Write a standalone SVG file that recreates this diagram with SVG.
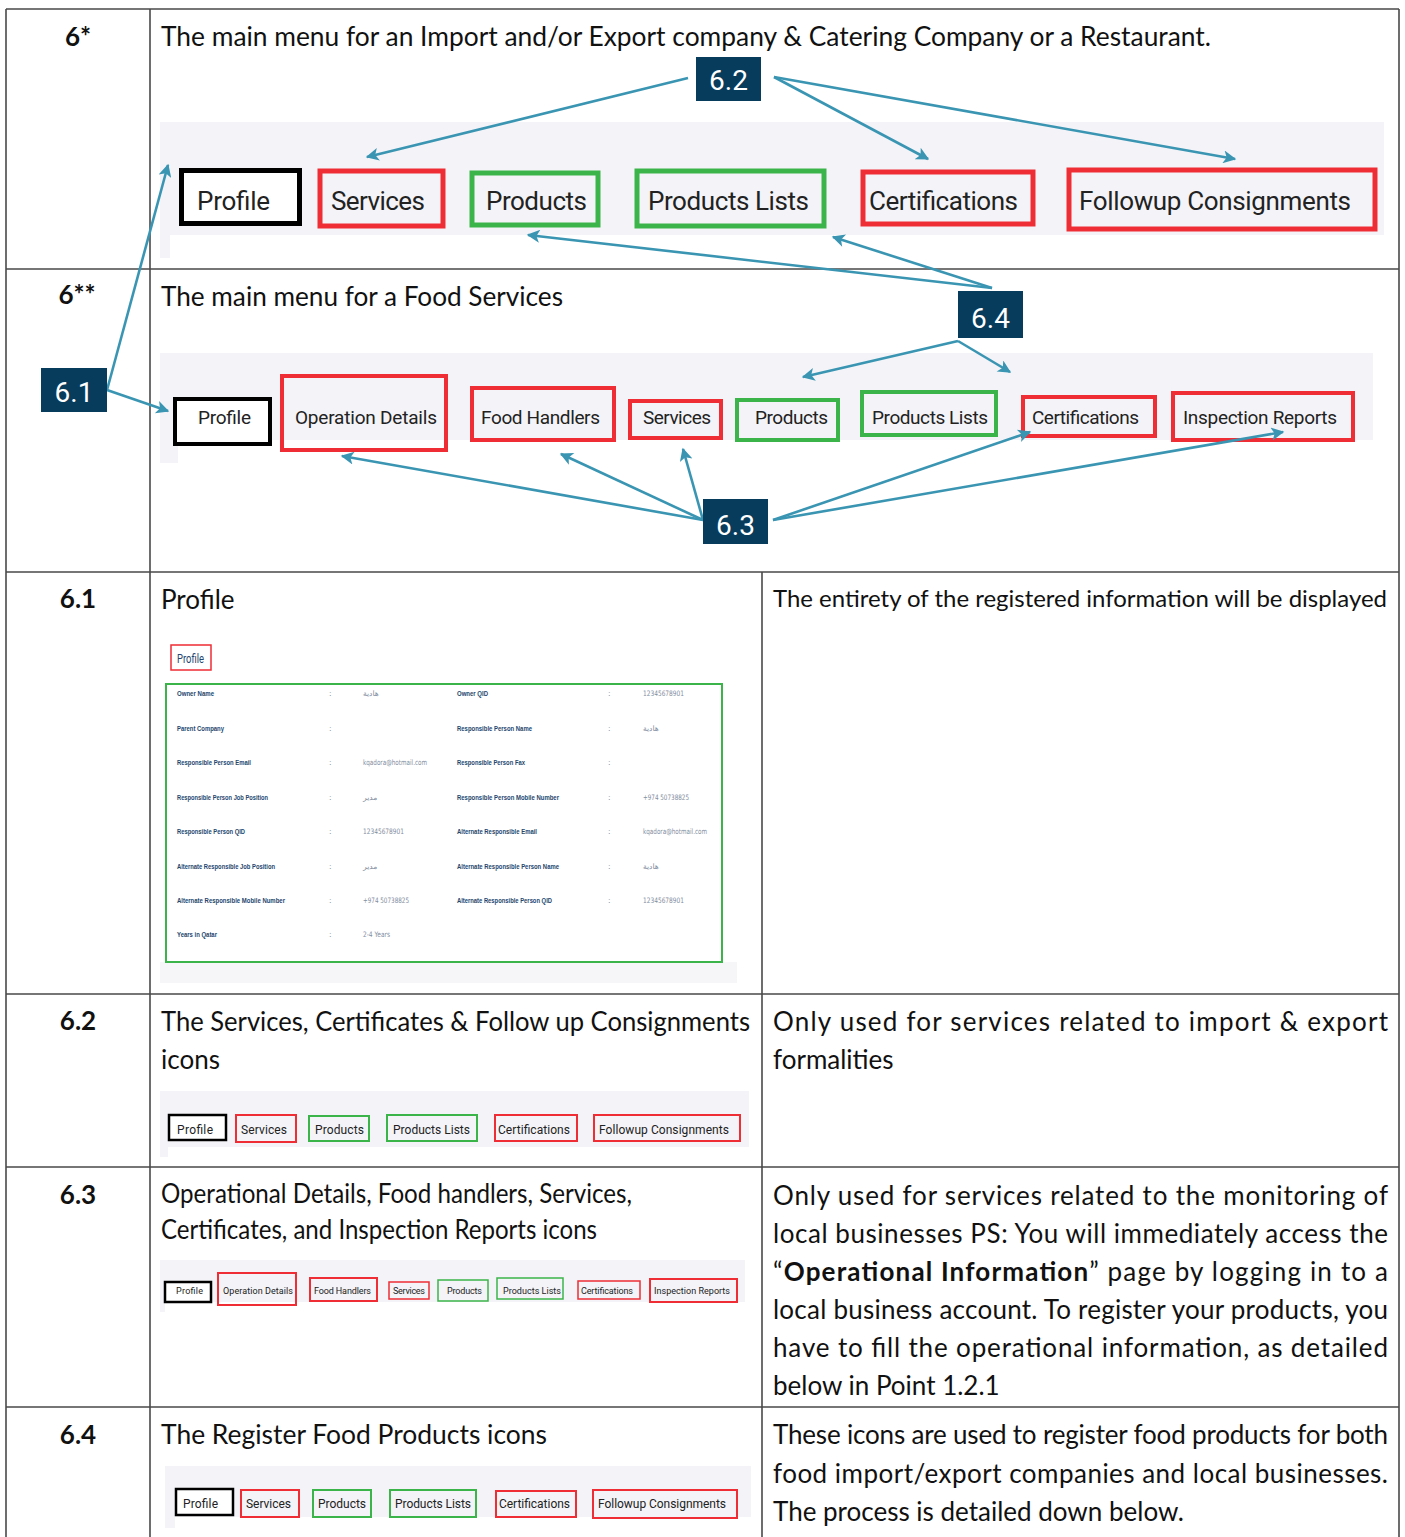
<svg xmlns="http://www.w3.org/2000/svg" width="1405" height="1537" viewBox="0 0 1405 1537">
<defs>
<style>
.grid{stroke:#4a4a4a;stroke-width:1.6;fill:none}
.main{font-family:Lato,"Open Sans",sans-serif;font-size:26px;fill:#111}
.num{font-family:Lato,"Open Sans",sans-serif;font-size:26px;font-weight:bold;fill:#111;text-anchor:middle}
.band{fill:#f4f4f8}
.btn{font-family:Roboto,"Liberation Sans",sans-serif;fill:#222}
.r{fill:none;stroke:#ee2d35}
.g{fill:none;stroke:#3bb44a}
.k{fill:#fff;stroke:#000}
.tag{fill:#073c5d}
.tagt{font-family:Roboto,"Liberation Sans",sans-serif;font-size:28px;fill:#fff;text-anchor:middle}
.conn{stroke:#3a95b3;stroke-width:2.6;fill:none;marker-end:url(#ah)}
.fl{font-family:"Liberation Sans",Roboto,sans-serif;font-size:7.5px;font-weight:bold;fill:#24466e}
.fv{font-family:"DejaVu Sans","Liberation Sans",sans-serif;font-size:7.5px;fill:#7f8da0}
</style>
<marker id="ah" viewBox="0 0 10 10" refX="9" refY="5" markerWidth="17" markerHeight="13" markerUnits="userSpaceOnUse" orient="auto">
<path d="M0,0 L10,5 L0,10 L2.5,5 z" fill="#3a95b3"/>
</marker>
</defs>
<rect width="1405" height="1537" fill="#fff"/>

<g id="table">
<path class="grid" d="M6,9 H1399 M6,9 V1537 M1399,9 V1537 M150,9 V1537 M762,572 V1537 M6,269 H1399 M6,572 H1399 M6,994 H1399 M6,1167 H1399 M6,1407 H1399"/>
</g>

<g id="row6star">
<text class="num" x="78" y="46">6*</text>
<text class="main" x="161" y="46" textLength="1050" lengthAdjust="spacingAndGlyphs">The main menu for an Import and/or Export company &amp; Catering Company or a Restaurant.</text>
<rect class="band" x="160" y="122" width="1224" height="113"/>
<rect class="band" x="160" y="122" width="10" height="136"/>
</g>

<g id="menu1">
<g id="m1-profile"><rect class="k" x="181.5" y="170.5" width="118" height="53" stroke-width="5"/><text class="btn" x="197" y="210" font-size="26" textLength="73">Profile</text></g>
<g id="m1-services"><rect class="r" x="320" y="171" width="123" height="55" stroke-width="5"/><text class="btn" x="331" y="210" font-size="26" textLength="94">Services</text></g>
<g id="m1-products"><rect class="g" x="472" y="173" width="126" height="52" stroke-width="5"/><text class="btn" x="486" y="210" font-size="26" textLength="101">Products</text></g>
<g id="m1-plists"><rect class="g" x="637" y="171" width="187" height="55" stroke-width="5"/><text class="btn" x="648" y="210" font-size="26" textLength="161">Products Lists</text></g>
<g id="m1-cert"><rect class="r" x="863" y="172" width="170" height="52" stroke-width="5"/><text class="btn" x="869" y="210" font-size="26" textLength="149">Certifications</text></g>
<g id="m1-follow"><rect class="r" x="1069" y="170" width="306" height="59" stroke-width="5"/><text class="btn" x="1079" y="210" font-size="26" textLength="272">Followup Consignments</text></g>
</g>

<g id="row6dstar">
<text class="num" x="77" y="304">6**</text>
<text class="main" x="161" y="306" textLength="402" lengthAdjust="spacingAndGlyphs">The main menu for a Food Services</text>
<rect class="band" x="160" y="353" width="1213" height="87"/>
<rect class="band" x="160" y="353" width="18" height="110"/>
</g>

<g id="menu2">
<g id="m2-profile"><rect class="k" x="175" y="399" width="95" height="45" stroke-width="4"/><text class="btn" x="198" y="424" font-size="19" textLength="53">Profile</text></g>
<g id="m2-opdet"><rect class="r" x="282" y="376" width="164" height="74" stroke-width="4"/><text class="btn" x="295" y="424" font-size="19" textLength="142">Operation Details</text></g>
<g id="m2-food"><rect class="r" x="472" y="388" width="142" height="52" stroke-width="4"/><text class="btn" x="481" y="424" font-size="19" textLength="119">Food Handlers</text></g>
<g id="m2-services"><rect class="r" x="630" y="401" width="91" height="37" stroke-width="4"/><text class="btn" x="643" y="424" font-size="19" textLength="68">Services</text></g>
<g id="m2-products"><rect class="g" x="737" y="400" width="101" height="40" stroke-width="4"/><text class="btn" x="755" y="424" font-size="19" textLength="73">Products</text></g>
<g id="m2-plists"><rect class="g" x="862" y="392" width="134" height="43" stroke-width="4"/><text class="btn" x="872" y="424" font-size="19" textLength="116">Products Lists</text></g>
<g id="m2-cert"><rect class="r" x="1023" y="397" width="132" height="39" stroke-width="4"/><text class="btn" x="1032" y="424" font-size="19" textLength="107">Certifications</text></g>
<g id="m2-insp"><rect class="r" x="1173" y="393" width="180" height="47" stroke-width="4"/><text class="btn" x="1183" y="424" font-size="19" textLength="154">Inspection Reports</text></g>
</g>

<g id="connectors">
<line class="conn" x1="688" y1="78" x2="367" y2="157"/>
<line class="conn" x1="774" y1="77" x2="928" y2="159"/>
<line class="conn" x1="774" y1="77" x2="1235" y2="159"/>
<line class="conn" x1="992" y1="288" x2="528" y2="235"/>
<line class="conn" x1="992" y1="288" x2="833" y2="237"/>
<line class="conn" x1="958" y1="341" x2="803" y2="377"/>
<line class="conn" x1="958" y1="341" x2="1010" y2="372"/>
<line class="conn" x1="107" y1="390" x2="168" y2="165"/>
<line class="conn" x1="107" y1="390" x2="168" y2="411"/>
<line class="conn" x1="703" y1="520" x2="342" y2="456"/>
<line class="conn" x1="703" y1="520" x2="561" y2="454"/>
<line class="conn" x1="703" y1="520" x2="683" y2="449"/>
<line class="conn" x1="773" y1="520" x2="1030" y2="432"/>
<line class="conn" x1="773" y1="520" x2="1283" y2="432"/>
</g>

<g id="tag62"><rect class="tag" x="696" y="57" width="65" height="44"/><text class="tagt" x="728.5" y="90">6.2</text></g>
<g id="tag64"><rect class="tag" x="958" y="291" width="65" height="47"/><text class="tagt" x="990.5" y="328">6.4</text></g>
<g id="tag61"><rect class="tag" x="41" y="368" width="66" height="44"/><text class="tagt" x="74" y="402">6.1</text></g>
<g id="tag63"><rect class="tag" x="703" y="499" width="65" height="45"/><text class="tagt" x="735.5" y="535">6.3</text></g>

<g id="row61">
<text class="num" x="78" y="608">6.1</text>
<text class="main" x="161" y="609">Profile</text>
<text class="main" x="773" y="607" style="font-size:23px" textLength="614" lengthAdjust="spacingAndGlyphs">The entirety of the registered information will be displayed</text>
<rect x="160" y="630" width="577" height="353" fill="#f6f6f8"/>
<rect x="160" y="630" width="577" height="332" fill="#fff"/>
<rect x="171" y="645" width="40" height="25" fill="#fff" stroke="#ee2d35" stroke-width="1.5"/>
<text x="177" y="663" font-family="Roboto,'Liberation Sans',sans-serif" font-size="12" fill="#24466e" textLength="27" lengthAdjust="spacingAndGlyphs">Profile</text>
<rect x="166" y="684" width="556" height="278" fill="#fff" stroke="#3bb44a" stroke-width="2"/>
<g id="profile-fields">
<text class="fl" x="177" y="696" textLength="37" lengthAdjust="spacingAndGlyphs">Owner Name</text><text class="fv" x="329" y="696">:</text><text class="fv" x="363" y="696">هادية</text>
<text class="fl" x="177" y="731" textLength="47" lengthAdjust="spacingAndGlyphs">Parent Company</text><text class="fv" x="329" y="731">:</text>
<text class="fl" x="177" y="765" textLength="74" lengthAdjust="spacingAndGlyphs">Responsible Person Email</text><text class="fv" x="329" y="765">:</text><text class="fv" x="363" y="765" textLength="64" lengthAdjust="spacingAndGlyphs">kqadora@hotmail.com</text>
<text class="fl" x="177" y="800" textLength="91" lengthAdjust="spacingAndGlyphs">Responsible Person Job Position</text><text class="fv" x="329" y="800">:</text><text class="fv" x="363" y="800">مدير</text>
<text class="fl" x="177" y="834" textLength="68" lengthAdjust="spacingAndGlyphs">Responsible Person QID</text><text class="fv" x="329" y="834">:</text><text class="fv" x="363" y="834" textLength="41" lengthAdjust="spacingAndGlyphs">12345678901</text>
<text class="fl" x="177" y="869" textLength="98" lengthAdjust="spacingAndGlyphs">Alternate Responsible Job Position</text><text class="fv" x="329" y="869">:</text><text class="fv" x="363" y="869">مدير</text>
<text class="fl" x="177" y="903" textLength="108" lengthAdjust="spacingAndGlyphs">Alternate Responsible Mobile Number</text><text class="fv" x="329" y="903">:</text><text class="fv" x="363" y="903" textLength="46" lengthAdjust="spacingAndGlyphs">+974 50738825</text>
<text class="fl" x="177" y="937" textLength="40" lengthAdjust="spacingAndGlyphs">Years in Qatar</text><text class="fv" x="329" y="937">:</text><text class="fv" x="363" y="937" textLength="27" lengthAdjust="spacingAndGlyphs">2-4 Years</text>
<text class="fl" x="457" y="696" textLength="31" lengthAdjust="spacingAndGlyphs">Owner QID</text><text class="fv" x="608" y="696">:</text><text class="fv" x="643" y="696" textLength="41" lengthAdjust="spacingAndGlyphs">12345678901</text>
<text class="fl" x="457" y="731" textLength="75" lengthAdjust="spacingAndGlyphs">Responsible Person Name</text><text class="fv" x="608" y="731">:</text><text class="fv" x="643" y="731">هادية</text>
<text class="fl" x="457" y="765" textLength="68" lengthAdjust="spacingAndGlyphs">Responsible Person Fax</text><text class="fv" x="608" y="765">:</text>
<text class="fl" x="457" y="800" textLength="102" lengthAdjust="spacingAndGlyphs">Responsible Person Mobile Number</text><text class="fv" x="608" y="800">:</text><text class="fv" x="643" y="800" textLength="46" lengthAdjust="spacingAndGlyphs">+974 50738825</text>
<text class="fl" x="457" y="834" textLength="80" lengthAdjust="spacingAndGlyphs">Alternate Responsible Email</text><text class="fv" x="608" y="834">:</text><text class="fv" x="643" y="834" textLength="64" lengthAdjust="spacingAndGlyphs">kqadora@hotmail.com</text>
<text class="fl" x="457" y="869" textLength="102" lengthAdjust="spacingAndGlyphs">Alternate Responsible Person Name</text><text class="fv" x="608" y="869">:</text><text class="fv" x="643" y="869">هادية</text>
<text class="fl" x="457" y="903" textLength="95" lengthAdjust="spacingAndGlyphs">Alternate Responsible Person QID</text><text class="fv" x="608" y="903">:</text><text class="fv" x="643" y="903" textLength="41" lengthAdjust="spacingAndGlyphs">12345678901</text>
</g>
</g>

<g id="row62">
<text class="num" x="78" y="1030">6.2</text>
<text class="main" x="161" y="1031" textLength="589" lengthAdjust="spacingAndGlyphs">The Services, Certificates &amp; Follow up Consignments</text>
<text class="main" x="161" y="1069">icons</text>
<text class="main" x="773" y="1031" textLength="615">Only used for services related to import &amp; export</text>
<text class="main" x="773" y="1069">formalities</text>
<rect class="band" x="160" y="1091" width="589" height="56"/>
<rect class="band" x="160" y="1091" width="8" height="66"/>
<g id="m3-profile"><rect class="k" x="169" y="1115" width="57" height="25" stroke-width="2.5"/><text class="btn" x="177" y="1134" font-size="12" textLength="36">Profile</text></g>
<g id="m3-services"><rect class="r" x="236" y="1115" width="60" height="27" stroke-width="2"/><text class="btn" x="241" y="1134" font-size="12" textLength="46">Services</text></g>
<g id="m3-products"><rect class="g" x="309" y="1116" width="60" height="25" stroke-width="2"/><text class="btn" x="315" y="1134" font-size="12" textLength="49">Products</text></g>
<g id="m3-plists"><rect class="g" x="387" y="1115" width="90" height="26" stroke-width="2"/><text class="btn" x="393" y="1134" font-size="12" textLength="77">Products Lists</text></g>
<g id="m3-cert"><rect class="r" x="495" y="1115" width="82" height="26" stroke-width="2"/><text class="btn" x="498" y="1134" font-size="12" textLength="72">Certifications</text></g>
<g id="m3-follow"><rect class="r" x="594" y="1115" width="146" height="26" stroke-width="2"/><text class="btn" x="599" y="1134" font-size="12" textLength="130">Followup Consignments</text></g>
</g>

<g id="row63">
<text class="num" x="78" y="1204">6.3</text>
<text class="main" x="161" y="1203" textLength="471" lengthAdjust="spacingAndGlyphs">Operational Details, Food handlers, Services,</text>
<text class="main" x="161" y="1239" textLength="436" lengthAdjust="spacingAndGlyphs">Certificates, and Inspection Reports icons</text>
<text class="main" x="773" y="1205" textLength="615">Only used for services related to the monitoring of</text>
<text class="main" x="773" y="1243" textLength="615">local businesses PS: You will immediately access the</text>
<text class="main" x="773" y="1281" textLength="615">“<tspan font-weight="bold">Operational Information</tspan>” page by logging in to a</text>
<text class="main" x="773" y="1319" textLength="615">local business account. To register your products, you</text>
<text class="main" x="773" y="1357" textLength="615">have to fill the operational information, as detailed</text>
<text class="main" x="773" y="1395">below in Point 1.2.1</text>
<rect class="band" x="160" y="1260" width="585" height="42"/>
<rect class="band" x="160" y="1260" width="5" height="52"/>
<g id="m4-profile"><rect class="k" x="165" y="1282" width="46" height="20" stroke-width="2.5"/><text class="btn" x="176" y="1294" font-size="9" textLength="27">Profile</text></g>
<g id="m4-opdet"><rect class="r" x="218" y="1273" width="78" height="32" stroke-width="2"/><text class="btn" x="223" y="1294" font-size="9" textLength="70">Operation Details</text></g>
<g id="m4-food"><rect class="r" x="310" y="1278" width="67" height="23" stroke-width="2"/><text class="btn" x="314" y="1294" font-size="9" textLength="57">Food Handlers</text></g>
<g id="m4-services"><rect class="r" x="389" y="1282" width="40" height="17" stroke-width="1.5"/><text class="btn" x="393" y="1294" font-size="9" textLength="32">Services</text></g>
<g id="m4-products"><rect class="g" x="438" y="1280" width="50" height="21" stroke-width="1.5"/><text class="btn" x="447" y="1294" font-size="9" textLength="35">Products</text></g>
<g id="m4-plists"><rect class="g" x="497" y="1278" width="66" height="21" stroke-width="1.5"/><text class="btn" x="503" y="1294" font-size="9" textLength="58">Products Lists</text></g>
<g id="m4-cert"><rect class="r" x="578" y="1281" width="62" height="18" stroke-width="1.5"/><text class="btn" x="581" y="1294" font-size="9" textLength="52">Certifications</text></g>
<g id="m4-insp"><rect class="r" x="650" y="1279" width="87" height="23" stroke-width="2"/><text class="btn" x="654" y="1294" font-size="9" textLength="76">Inspection Reports</text></g>
</g>

<g id="row64">
<text class="num" x="78" y="1444">6.4</text>
<text class="main" x="161" y="1444" textLength="386" lengthAdjust="spacingAndGlyphs">The Register Food Products icons</text>
<text class="main" x="773" y="1444" textLength="615">These icons are used to register food products for both</text>
<text class="main" x="773" y="1483" textLength="615">food import/export companies and local businesses.</text>
<text class="main" x="773" y="1521">The process is detailed down below.</text>
<rect class="band" x="165" y="1466" width="586" height="51"/>
<rect class="band" x="165" y="1466" width="10" height="62"/>
<g id="m5-profile"><rect class="k" x="176" y="1489" width="57" height="26" stroke-width="2.5"/><text class="btn" x="183" y="1508" font-size="12" textLength="35">Profile</text></g>
<g id="m5-services"><rect class="r" x="241" y="1490" width="58" height="27" stroke-width="2"/><text class="btn" x="246" y="1508" font-size="12" textLength="45">Services</text></g>
<g id="m5-products"><rect class="g" x="313" y="1490" width="58" height="27" stroke-width="2"/><text class="btn" x="318" y="1508" font-size="12" textLength="48">Products</text></g>
<g id="m5-plists"><rect class="g" x="390" y="1490" width="86" height="27" stroke-width="2"/><text class="btn" x="395" y="1508" font-size="12" textLength="76">Products Lists</text></g>
<g id="m5-cert"><rect class="r" x="496" y="1491" width="80" height="26" stroke-width="2"/><text class="btn" x="499" y="1508" font-size="12" textLength="71">Certifications</text></g>
<g id="m5-follow"><rect class="r" x="593" y="1490" width="144" height="28" stroke-width="2"/><text class="btn" x="598" y="1508" font-size="12" textLength="128">Followup Consignments</text></g>
</g>
</svg>
